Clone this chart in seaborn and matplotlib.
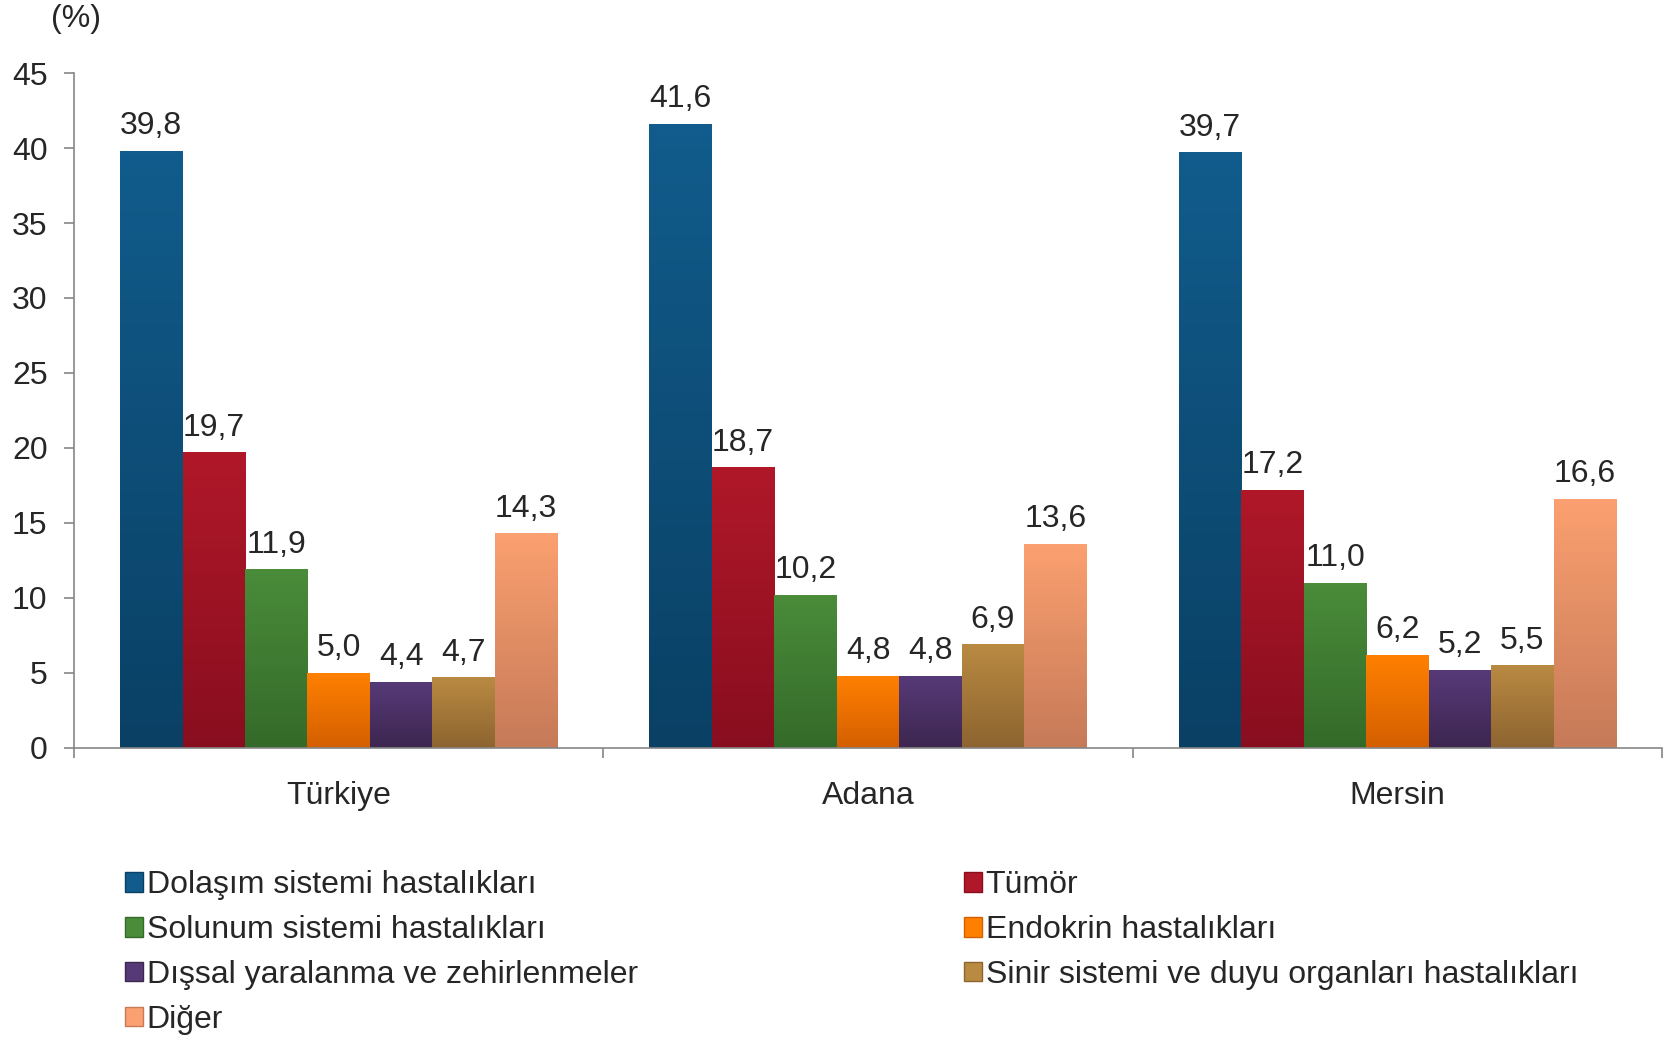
import numpy as np
import pandas as pd
import matplotlib
matplotlib.use("Agg")
import matplotlib.pyplot as plt
import seaborn as sns
from matplotlib.patches import Patch
from matplotlib.colors import to_rgb

# data
regions = ["Türkiye", "Adana", "Mersin"]
causes = ["Dolaşım sistemi hastalıkları", "Tümör", "Solunum sistemi hastalıkları",
          "Endokrin hastalıkları", "Dışsal yaralanma ve zehirlenmeler",
          "Sinir sistemi ve duyu organları hastalıkları", "Diğer"]
dolasim = [39.8, 41.6, 39.7]
tumor = [19.7, 18.7, 17.2]
solunum = [11.9, 10.2, 11.0]
endokrin = [5.0, 4.8, 6.2]
dissal = [4.4, 4.8, 5.2]
sinir = [4.7, 6.9, 5.5]
diger = [14.3, 13.6, 16.6]
series = [dolasim, tumor, solunum, endokrin, dissal, sinir, diger]

# colours (top, bottom) for the gradient look
top_colors = ["#115c8c", "#b01829", "#4a8c3a", "#ff8000", "#563a78", "#b98a42", "#fba070"]
bottom_colors = ["#0a4064", "#880e1f", "#346a29", "#d45f00", "#3d264f", "#8d6430", "#c67a58"]

rows = []
for cause, vals in zip(causes, series):
    for reg, v in zip(regions, vals):
        rows.append({"bolge": reg, "neden": cause, "oran": v})
df = pd.DataFrame(rows)

sns.set_style("white")
plt.rcParams["font.family"] = ["Liberation Sans", "DejaVu Sans"]
FS = 23

fig = plt.figure(figsize=(16.63, 10.37), dpi=100)
ax = fig.add_axes([0.0445, 0.2787, 0.955, 0.6509])

sns.barplot(data=df, x="bolge", y="oran", hue="neden", hue_order=causes,
            palette=dict(zip(causes, top_colors)), width=0.826, saturation=1,
            legend=False, ax=ax, errorbar=None)

# gradient fill on each bar
for i, cont in enumerate(ax.containers):
    c1 = np.array(to_rgb(top_colors[i]))
    c2 = np.array(to_rgb(bottom_colors[i]))
    grad = np.linspace(0, 1, 100)[:, None, None]
    img = c1 * (1 - grad) + c2 * grad
    for bar in cont:
        x, w, h = bar.get_x(), bar.get_width(), bar.get_height()
        ax.imshow(img, extent=[x, x + w, 0, h], aspect="auto", origin="upper",
                  zorder=bar.get_zorder() + 0.1)
    ax.bar_label(cont, labels=[f"{v:.1f}".replace(".", ",") for v in cont.datavalues],
                 padding=7, fontsize=FS)

ax.set_xlim(-0.5, 2.5)
ax.set_ylim(0, 45)
ax.set_yticks(range(0, 46, 5))
ax.set_xlabel("")
ax.set_ylabel("")

for s in ["top", "right"]:
    ax.spines[s].set_visible(False)
for s in ["left", "bottom"]:
    ax.spines[s].set_color("#868686")
    ax.spines[s].set_linewidth(1.2)

ax.tick_params(axis="y", left=True, length=7, width=1.2, color="#868686",
               labelsize=FS, pad=12)
ax.tick_params(axis="x", which="major", length=0, labelsize=FS, pad=24)
ax.set_xticks([-0.5, 0.5, 1.5, 2.5], minor=True)
ax.tick_params(axis="x", which="minor", bottom=True, length=7, width=1.2, color="#868686")

fig.text(0.046, 0.982, "(%)", ha="center", va="center", fontsize=FS)

def handles_for(idx):
    return [Patch(facecolor=top_colors[i], edgecolor=bottom_colors[i]) for i in idx]

common = dict(frameon=False, fontsize=FS, handlelength=0.56, handleheight=0.56,
              handletextpad=0.12, labelspacing=0.46, borderpad=0, loc="upper left")
fig.legend(handles_for([0, 2, 4, 6]), [causes[i] for i in [0, 2, 4, 6]],
           bbox_to_anchor=(0.0655, 0.176), **common)
fig.legend(handles_for([1, 3, 5]), [causes[i] for i in [1, 3, 5]],
           bbox_to_anchor=(0.570, 0.176), **common)

fig.savefig("out.png", dpi=100)
